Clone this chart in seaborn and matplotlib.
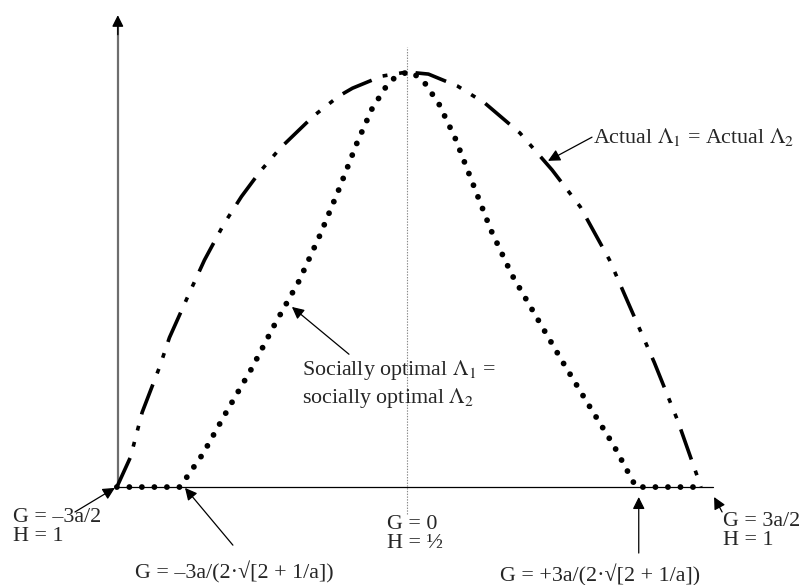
"""
Actual vs socially optimal Lambda as a function of G
"""
import numpy as np
import pandas as pd
import matplotlib
matplotlib.use('Agg')
import matplotlib.pyplot as plt
import seaborn as sns

# actual Lambda_1 = actual Lambda_2
actual_g = [-1.49, -1.42, -1.36, -1.27, -1.22, -1.12, -1.04, -0.94, -0.85, -0.755, -0.65,
            -0.48, -0.35, -0.28, -0.13, 0.0, 0.11, 0.26, 0.40, 0.58, 0.745, 0.89, 1.04,
            1.145, 1.27, 1.39, 1.51]
actual_lam = [0.0, 0.072, 0.18, 0.29, 0.36, 0.465, 0.547, 0.634, 0.70, 0.76, 0.817,
              0.894, 0.942, 0.961, 0.99, 1.0, 0.995, 0.966, 0.925, 0.853, 0.764, 0.675, 0.547,
              0.434, 0.30, 0.16, 0.0]

# socially optimal Lambda_1 = socially optimal Lambda_2
social_g = [-1.49, -1.166, -1.048, -0.925, -0.796, -0.678, -0.555, -0.447, -0.349, -0.257,
            -0.180, -0.113, -0.072, 0.0, 0.031, 0.092, 0.164, 0.247, 0.339, 0.431, 0.539,
            0.668, 0.796, 0.930, 1.063, 1.176, 1.51]
social_lam = [0.0, 0.0, 0.080, 0.183, 0.287, 0.393, 0.496, 0.607, 0.718, 0.829,
              0.911, 0.961, 0.983, 1.0, 0.998, 0.973, 0.923, 0.841, 0.730, 0.619, 0.511,
              0.407, 0.304, 0.200, 0.099, 0.0, 0.0]

actual_df = pd.DataFrame({'G': actual_g, 'Lambda': actual_lam})
social_df = pd.DataFrame({'G': social_g, 'Lambda': social_lam})

sns.set_style('white')
plt.rcParams['font.family'] = ['Liberation Serif', 'DejaVu Serif']
plt.rcParams['mathtext.fontset'] = 'stix'
plt.rcParams['lines.scale_dashes'] = False

fig = plt.figure(figsize=(8.07, 5.85), dpi=100)
ax = fig.add_axes([0, 0, 1, 1])

# axes of the diagram
x0 = -1.485
ax.plot([x0, x0], [0, 1.12], color='#6e6e6e', lw=1.6, solid_capstyle='butt')
ax.annotate('', xy=(x0, 1.137), xytext=(x0, 1.09),
            arrowprops=dict(arrowstyle='-|>', color='black', lw=1, mutation_scale=17,
                            shrinkA=0, shrinkB=0))
ax.plot([x0, 1.57], [0, 0], color='black', lw=0.9)
ax.plot([0, 0], [-0.065, 1.06], color='#8a8a8a', lw=0.8, linestyle=(0, (1, 1)))

# curves
sns.lineplot(data=actual_df, x='G', y='Lambda', ax=ax, color='black', lw=2.6,
             sort=False, estimator=None,
             linestyle=(0, (23, 8.5, 3.5, 8.5, 3.5, 8.5)), dash_capstyle='butt')
sns.lineplot(data=social_df, x='G', y='Lambda', ax=ax, color='black', lw=4.2,
             sort=False, estimator=None,
             linestyle=(0, (0.01, 9.0)), dash_capstyle='round')
ax.set_xlim(-2.090, 2.054)
ax.set_ylim(-0.236, 1.1735)
ax.set_axis_off()

fs = 15.8
arrow = dict(arrowstyle='-|>', color='black', lw=0.9, mutation_scale=18,
             shrinkA=0, shrinkB=0)

ax.text(0.955, 0.843, r'Actual $\Lambda_1$ = Actual $\Lambda_2$', fontsize=fs,
        ha='left', va='center')
ax.annotate('', xy=(0.724, 0.786), xytext=(0.95, 0.843), arrowprops=arrow)

ax.text(-0.539, 0.248, 'Socially optimal $\\Lambda_1$ =\nsocially optimal $\\Lambda_2$',
        fontsize=fs, ha='left', va='center', linespacing=1.2)
ax.annotate('', xy=(-0.591, 0.434), xytext=(-0.298, 0.320), arrowprops=arrow)

ax.text(-2.024, -0.096, 'G = \u20133a/2\nH = 1', fontsize=fs, ha='left', va='center',
        linespacing=1.05)
ax.annotate('', xy=(-1.50, -0.002), xytext=(-1.705, -0.060), arrowprops=arrow)

ax.text(-1.397, -0.205, 'G = \u20133a/(2\u00b7\u221a[2 + 1/a])', fontsize=fs,
        ha='left', va='center')
ax.annotate('', xy=(-1.14, -0.002), xytext=(-0.894, -0.140), arrowprops=arrow)

ax.text(-0.103, -0.113, 'G = 0\nH = \u00bd', fontsize=fs, ha='left', va='center',
        linespacing=1.05)

ax.text(0.478, -0.212, 'G = +3a/(2\u00b7\u221a[2 + 1/a])', fontsize=fs,
        ha='left', va='center')
ax.annotate('', xy=(1.19, -0.024), xytext=(1.19, -0.159), arrowprops=arrow)

ax.text(1.623, -0.106, 'G = 3a/2\nH = 1', fontsize=fs, ha='left', va='center',
        linespacing=1.05)
ax.annotate('', xy=(1.577, -0.024), xytext=(1.618, -0.060), arrowprops=arrow)

fig.savefig('out.png', dpi=100)
